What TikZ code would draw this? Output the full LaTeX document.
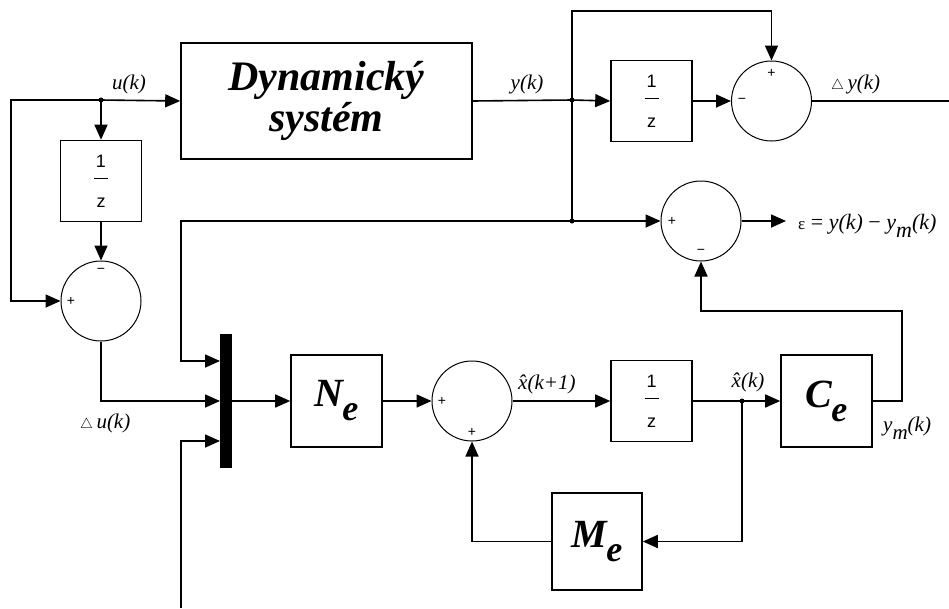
\documentclass[tikz,border=0pt]{standalone}
\usepackage{fontspec}
\setmainfont{Liberation Serif}
\newfontfamily\sansf{Liberation Sans}
\usetikzlibrary{arrows.meta}
\newcommand{\bmat}[1]{{\fontsize{40}{40}\selectfont\bfseries\itshape #1\kern-1pt\raisebox{-14pt}{\fontsize{36}{36}\selectfont e}}}
\newcommand{\dlytext}{1\\\rule[8pt]{14pt}{1.4pt}\\z}
\newcommand{\dtri}{$\scriptstyle\triangle$}
\begin{document}
\begin{tikzpicture}[x=1pt,y=-1pt,
  wire/.style={line width=1.6pt},
  arr/.style={wire,-{Triangle[length=15pt,width=13pt]}},
  blk/.style={draw,line width=1.6pt,rectangle,inner sep=0pt},
  delay/.style={blk,minimum width=81pt,minimum height=81pt,align=center,font=\sansf\fontsize{18}{20}\selectfont},
  sumc/.style={draw,circle,line width=1pt,minimum size=80pt,inner sep=0pt},
  lbl/.style={font=\fontsize{21}{21}\selectfont\itshape,inner sep=0pt},
  sgn/.style={font=\sansf\fontsize{14}{14}\selectfont,inner sep=0pt},
  jdot/.style={circle,fill,minimum size=5pt,inner sep=0pt},
]
\useasboundingbox (0,0) rectangle (949,608);
% blocks
\node[blk,minimum width=291pt,minimum height=116pt,align=center,
      font=\fontsize{42}{41}\selectfont\bfseries\itshape] (sys) at (326.5,101) {Dynamický\\systém};
\node[delay] (d1) at (101,181) {\dlytext};
\node[sumc] (s1) at (101,301) {};
\node[delay] (d2) at (651.5,101) {\dlytext};
\node[sumc] (s2) at (771.5,101) {};
\node[sumc] (s3) at (701,221) {};
\node[fill,minimum width=12pt,minimum height=134pt,inner sep=0pt] (mux) at (226,401) {};
\node[blk,minimum width=91pt,minimum height=92pt] (Ne) at (336.5,401) {\bmat{N}};
\node[sumc] (s4) at (472,401) {};
\node[delay] (d3) at (651.5,401) {\dlytext};
\node[blk,minimum width=91pt,minimum height=92pt] (Ce) at (826.5,401) {\bmat{C}};
\node[blk,minimum width=90pt,minimum height=97pt] (Me) at (597,541.5) {\bmat{M}};
% junctions
\node[jdot] (ju) at (101,100) {};
\node[jdot] (jy) at (572,100) {};
\node[jdot] (jy2) at (572,221) {};
\node[jdot] (jx) at (742,401) {};
% free points
\coordinate (cL) at (11,100);
\coordinate (cT2) at (771.5,11);
\coordinate (cF) at (181,221);
\coordinate (m1) at (220,361);
\coordinate (m2) at (220,401);
\coordinate (m3) at (220,441);
\coordinate (bin) at (181,608);
\coordinate (yout) at (949,101);
\coordinate (eout) at (786,221);
\coordinate (cR) at (902,311);
% connectors
\draw[arr] (ju.center) -- (sys.west);
\draw[arr] (ju.center) -- (d1.north);
\draw[arr] (ju.center) -- (cL) |- (s1.west);
\draw[arr] (d1.south) -- (s1.north);
\draw[arr] (s1.south) |- (m2);
\draw[wire] (sys.east) -- (jy.center);
\draw[arr] (jy.center) -- (d2.west);
\draw[arr] (jy.center) |- (cT2) -- (s2.north);
\draw[wire] (jy.center) -- (jy2.center);
\draw[arr] (jy2.center) -- (s3.west);
\draw[arr] (jy2.center) -- (cF) |- (m1);
\draw[arr] (d2.east) -- (s2.west);
\draw[wire] (s2.east) -- (yout);
\draw[arr] (s3.east) -- (eout);
\draw[arr] (Ce.east) -| (cR) -| (s3.south);
\draw[arr] (mux.east) -- (Ne.west);
\draw[arr] (Ne.east) -- (s4.west);
\draw[arr] (s4.east) -- (d3.west);
\draw[wire] (d3.east) -- (jx.center);
\draw[arr] (jx.center) -- (Ce.west);
\draw[arr] (jx.center) |- (Me.east);
\draw[arr] (Me.west) -| (s4.south);
\draw[arr] (bin) |- (m3);
% signs
\node[sgn] (s1m) at (101,271) {−};
\node[sgn] (s1p) at (71,301) {+};
\node[sgn] (s2p) at (771.5,73) {+};
\node[sgn] (s2m) at (742,101) {−};
\node[sgn] (s3p) at (672,221) {+};
\node[sgn] (s3m) at (701,252) {−};
\node[sgn] (s4p) at (442,401) {+};
\node[sgn] (s4q) at (472,432) {+};
% labels
\node[lbl,anchor=base] (lu) at (129,89) {u(k)};
\node[lbl,anchor=base] (ly) at (527,89) {y(k)};
\node[lbl,anchor=base west] (ldy) at (831,89) {\dtri\,y(k)};
\node[lbl,anchor=base west] (ldu) at (80,428) {\dtri\,u(k)};
\node[lbl,anchor=base west] (lx1) at (518,389) {\^{x}(k+1)};
\node[lbl,anchor=base] (lx) at (748,387) {\^{x}(k)};
\node[lbl,anchor=base west] (lym) at (883,431) {y\raisebox{-8pt}{m}(k)};
\node[lbl,anchor=base west,font=\fontsize{22}{22}\selectfont] (leps) at (798,229)
  {{\fontsize{17}{17}\selectfont ε} = \textit{y(k)} − \textit{y\raisebox{-8pt}{m}(k)}};
\end{tikzpicture}
\end{document}
